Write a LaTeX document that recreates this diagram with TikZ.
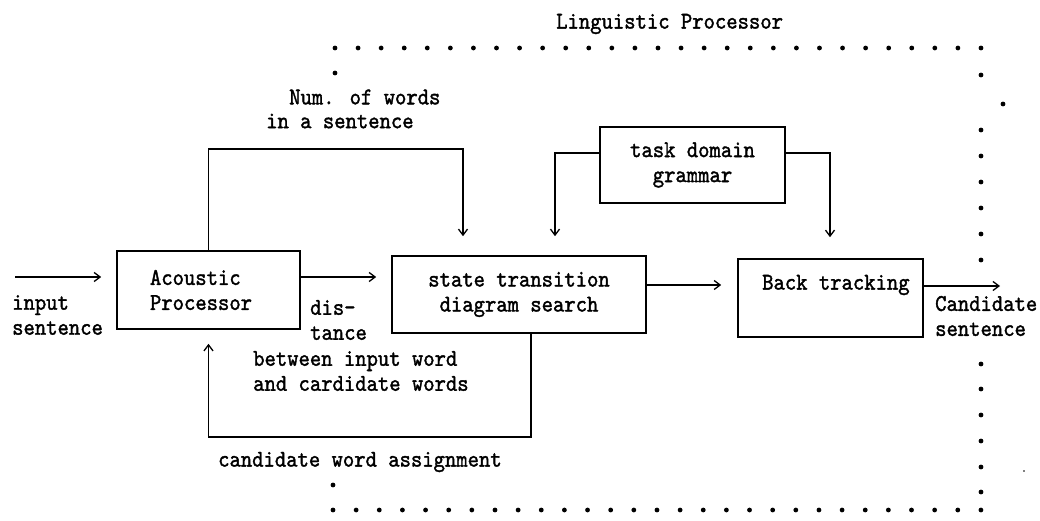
\documentclass[tikz,border=0pt]{standalone}
\usepackage{fontspec}
\usetikzlibrary{arrows.meta}
\newfontfamily\printerfont{lmmono10-regular.otf}[FakeStretch=0.9,FakeBold=1.5]
\begin{document}
\begin{tikzpicture}[x=1pt,y=-1pt,
  every node/.style={font=\printerfont\fontsize{24}{25}\selectfont, inner sep=0pt},
  blk/.style={draw, line width=1.6pt},
  wire/.style={line width=1.3pt},
  arr/.style={wire, -{Straight Barb[length=6pt,width=9pt,line width=1.3pt]}},
  lbl/.style={anchor=west, align=left},
  bdot/.style={fill=black}]
\useasboundingbox (0,0) rectangle (1040,521);

% processing blocks
\node[blk, minimum width=183pt, minimum height=78pt, inner xsep=33pt,
      text width=117pt, align=left] (ap) at (208.5,290) {Acoustic\\Processor};
\node[blk, minimum width=254pt, minimum height=77pt, align=center] (st) at (519,294.5)
      {state transition\\diagram search};
\node[blk, minimum width=185pt, minimum height=78pt] (bt) at (830.5,298) {};
\node[lbl] (btl) at (762,285) {Back tracking};
\node[blk, minimum width=185pt, minimum height=76pt, align=center] (td) at (692.5,165)
      {task domain\\grammar};

% free ends of connectors
\coordinate (ina) at (15,277);
\coordinate (out) at (1000,286);
\coordinate (nw) at (463,149);
\coordinate (tl) at (555,153);
\coordinate (tr) at (830,153);
\coordinate (fb) at (531,437);
\coordinate (r1) at ([yshift=9.5pt]st.east);
\coordinate (r2) at ([yshift=12pt]bt.east);

% signal flow
\draw[arr] (ina) -- ([xshift=-15pt]ina -| ap.west);
\draw[arr] (ap.east |- ina) -- ([xshift=-15pt]ina -| st.west);
\draw[arr] (r1) -- ([xshift=-16pt]r1 -| bt.west);
\draw[arr] (r2) -- (out);
\draw[arr, shorten >=19pt] (ap.north) |- (nw) -- (nw |- st.north);
\draw[arr, shorten >=19pt] (tl -| td.west) -- (tl) -- (tl |- st.north);
\draw[arr, shorten >=21pt] (tr -| td.east) -- (tr) -- (tr |- bt.north);
\draw[arr, shorten >=14pt] (fb |- st.south) -- (fb) -| (ap.south);

% labels
\node[lbl] (lin) at (12,315) {input\\sentence};
\node[lbl] (ldis) at (310,320) {dis-\\tance};
\node[lbl] (lbet) at (253,371) {between input word\\and cardidate words};
\node[lbl] (lcand) at (218,462) {candidate word assignment};
\node[lbl] (lnum) at (289,97) {Num. of words};
\node[lbl] (lsen) at (266,121) {in a sentence};
\node[lbl] (lout) at (935,316) {Candidate\\sentence};
\node[lbl] (ltitle) at (556,24) {Linguistic Processor};

% dotted boundary of the linguistic processor
\foreach \i in {0,...,28} \fill[bdot] (335+\i*23.07,48) circle[radius=2.4pt];
\foreach \i in {0,...,28} \fill[bdot] (333+\i*23.14,510) circle[radius=2.4pt];
\fill[bdot] (335,73) circle[radius=2.4pt];
\fill[bdot] (333,485) circle[radius=2.4pt];
\foreach \yy in {75,130,156,182,208,234,260,364,389,415,441,467,492}
  \fill[bdot] (981,\yy) circle[radius=2.4pt];
\fill[bdot] (1003,104) circle[radius=2.4pt];
\fill[bdot] (1024,471) circle[radius=0.8pt];
\end{tikzpicture}
\end{document}
